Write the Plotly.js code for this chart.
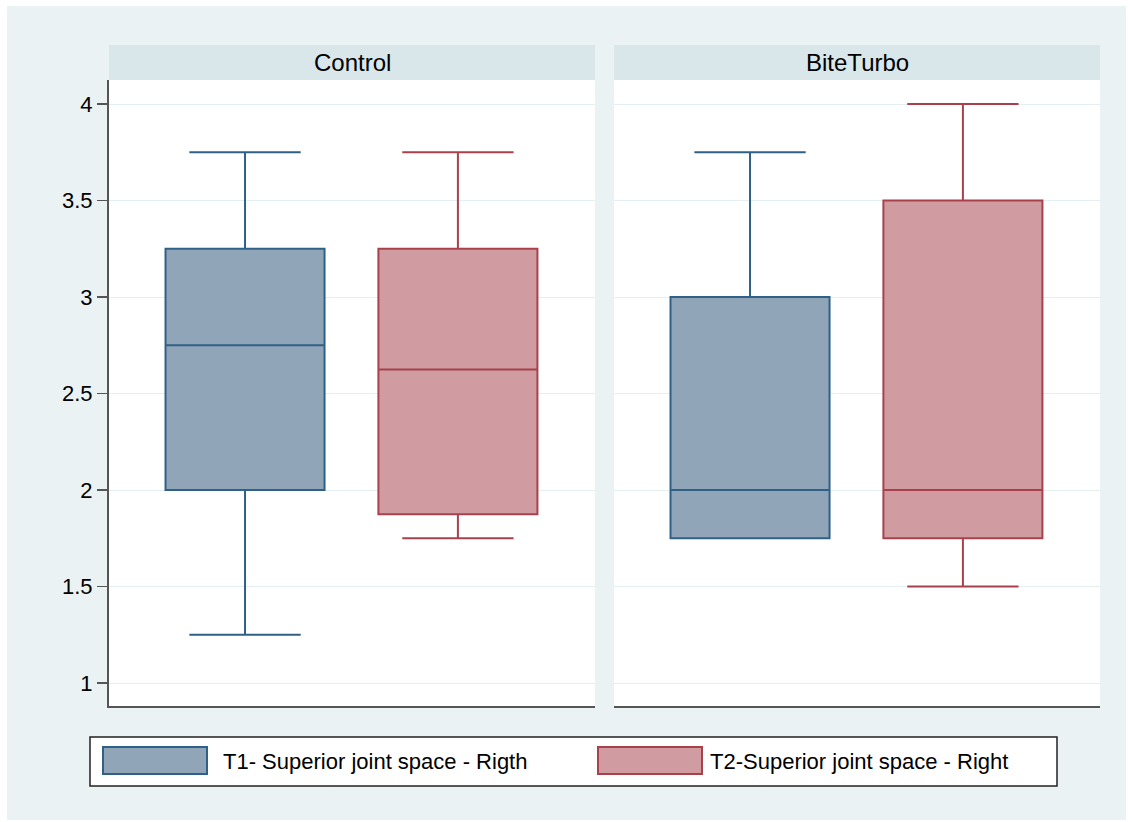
<!DOCTYPE html>
<html>
<head>
<meta charset="utf-8">
<script src="https://cdn.plot.ly/plotly-3.0.1.min.js"></script>
<style>html,body{margin:0;padding:0;background:#ffffff;}#chart{width:1132px;height:822px;}</style>
</head>
<body>
<div id="chart"></div>
<script>
// ---- data ----
const panels = ['Control', 'BiteTurbo'];
const seriesNames = ['T1- Superior joint space - Rigth', 'T2-Superior joint space - Right'];
const seriesPos = [0, 1];
// T1 per panel (Control, BiteTurbo)
const t1Lower  = [1.25, 1.75];
const t1Q1     = [2.00, 1.75];
const t1Median = [2.75, 2.00];
const t1Q3     = [3.25, 3.00];
const t1Upper  = [3.75, 3.75];
// T2 per panel (Control, BiteTurbo)
const t2Lower  = [1.75, 1.50];
const t2Q1     = [1.875, 1.75];
const t2Median = [2.625, 2.00];
const t2Q3     = [3.25, 3.50];
const t2Upper  = [3.75, 4.00];
const yTickVals = [1, 1.5, 2, 2.5, 3, 3.5, 4];
const yTickText = ['1', '1.5', '2', '2.5', '3', '3.5', '4'];

// ---- styles ----
const W = 1132, H = 822;
const px = v => v / W;
const py = v => 1 - v / H;
const FONT = 'Liberation Sans, Arial, Helvetica, sans-serif';
const fills = ['#90a6b8', '#d09ca1'];
const edges = ['#2f6186', '#a8414c'];
const outerBg = '#eaf2f3';
const stripBg = '#d9e7eb';

const panelX = [[109, 595], [614, 1100]];
const plotTop = 80, plotBottom = 706;
const stripTop = 45;

const stats = [
  [t1Lower, t1Q1, t1Median, t1Q3, t1Upper],
  [t2Lower, t2Q1, t2Median, t2Q3, t2Upper]
];

const traces = [];
panels.forEach((p, pi) => {
  seriesNames.forEach((s, si) => {
    const st = stats[si];
    traces.push({
      type: 'box',
      name: s,
      legendgroup: s,
      showlegend: false,
      x: [seriesPos[si]],
      lowerfence: [st[0][pi]],
      q1: [st[1][pi]],
      median: [st[2][pi]],
      q3: [st[3][pi]],
      upperfence: [st[4][pi]],
      width: 0.747,
      whiskerwidth: 0.7,
      fillcolor: fills[si],
      line: {color: edges[si], width: 2},
      boxpoints: false,
      xaxis: pi === 0 ? 'x' : 'x2',
      yaxis: pi === 0 ? 'y' : 'y2',
      hoverinfo: 'skip'
    });
  });
});

const xRange = [-0.639, 1.644];
const yRange = [1 - (plotBottom - 683) / 193, 4 + (104 - plotTop) / 193];

const shapes = [
  {type: 'rect', xref: 'paper', yref: 'paper', x0: px(7), x1: px(1126), y0: py(820), y1: py(6),
   fillcolor: outerBg, line: {width: 0}, layer: 'below'}
];
const annotations = [];
panels.forEach((p, pi) => {
  const [a, b] = panelX[pi];
  shapes.push({type: 'rect', xref: 'paper', yref: 'paper', x0: px(a), x1: px(b), y0: py(plotBottom), y1: py(plotTop),
    fillcolor: '#ffffff', line: {width: 0}, layer: 'below'});
  shapes.push({type: 'rect', xref: 'paper', yref: 'paper', x0: px(a), x1: px(b), y0: py(plotTop), y1: py(stripTop),
    fillcolor: stripBg, line: {width: 0}, layer: 'below'});
  annotations.push({text: p, xref: 'paper', yref: 'paper', x: px((a + b) / 2), y: py((plotTop + stripTop) / 2),
    xanchor: 'center', yanchor: 'middle', showarrow: false, font: {family: FONT, size: 24, color: '#000000'}});
});

// legend box
shapes.push({type: 'rect', xref: 'paper', yref: 'paper', x0: px(90), x1: px(1057), y0: py(786), y1: py(737),
  fillcolor: '#ffffff', line: {color: '#222222', width: 1.5}, layer: 'above'});
const legSw = [[103, 207, 221], [598, 702, 708]];
seriesNames.forEach((s, si) => {
  const [a, b, t] = legSw[si];
  shapes.push({type: 'rect', xref: 'paper', yref: 'paper', x0: px(a), x1: px(b), y0: py(774), y1: py(747),
    fillcolor: fills[si], line: {color: edges[si], width: 2}, layer: 'above'});
  annotations.push({text: s, xref: 'paper', yref: 'paper', x: px(t), y: py(761),
    xanchor: 'left', yanchor: 'middle', showarrow: false, font: {family: FONT, size: 22, color: '#000000'}});
});

const xBase = {range: xRange, showgrid: false, zeroline: false, showticklabels: false, ticks: '',
  showline: true, linecolor: '#555555', linewidth: 2, fixedrange: true};
const yBase = {range: yRange, tickvals: yTickVals, ticktext: yTickText, showgrid: true, gridcolor: '#e4eff2',
  gridwidth: 1, zeroline: false, fixedrange: true};

const layout = {
  width: W, height: H,
  margin: {l: 0, r: 0, t: 0, b: 0},
  paper_bgcolor: '#ffffff',
  plot_bgcolor: 'rgba(0,0,0,0)',
  showlegend: false,
  boxmode: 'overlay',
  xaxis: Object.assign({}, xBase, {domain: [px(109), px(595)], anchor: 'y'}),
  xaxis2: Object.assign({}, xBase, {domain: [px(614), px(1100)], anchor: 'y2'}),
  yaxis: Object.assign({}, yBase, {domain: [py(plotBottom), py(plotTop)], anchor: 'x',
    showticklabels: true, ticks: 'outside', ticklen: 10, tickwidth: 1.5, tickcolor: '#555555',
    showline: true, linecolor: '#555555', linewidth: 2, automargin: false,
    tickfont: {family: FONT, size: 22, color: '#000000'}}),
  yaxis2: Object.assign({}, yBase, {domain: [py(plotBottom), py(plotTop)], anchor: 'x2',
    showticklabels: false, ticks: '', showline: false, matches: 'y'}),
  shapes: shapes,
  annotations: annotations,
  font: {family: FONT}
};

Plotly.newPlot('chart', traces, layout, {staticPlot: true, displayModeBar: false});
</script>
</body>
</html>
